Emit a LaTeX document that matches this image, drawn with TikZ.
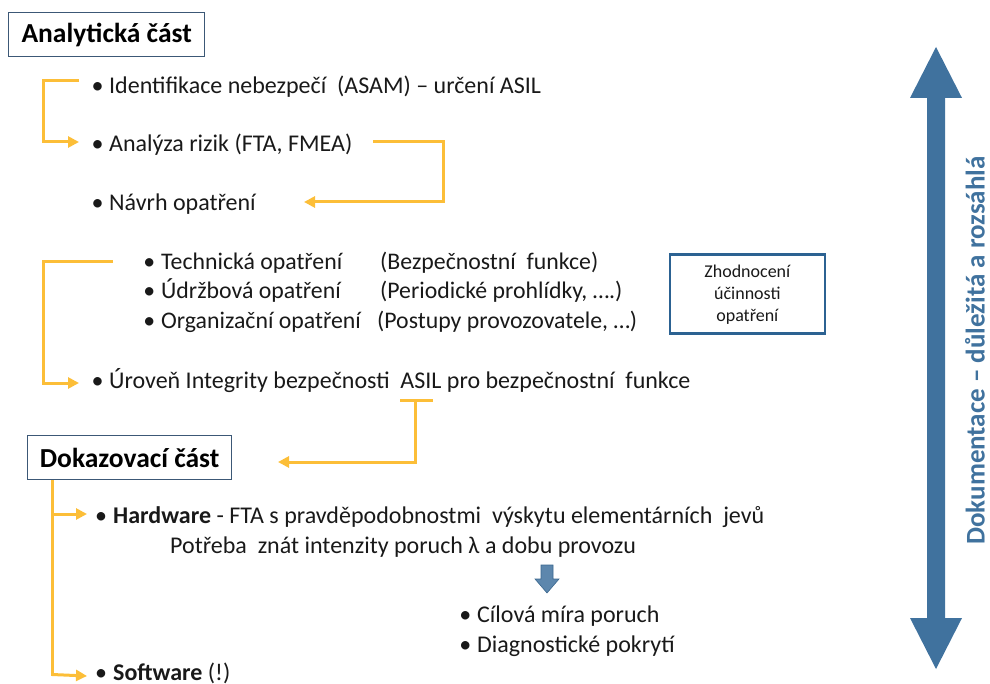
\documentclass[tikz,border=0pt]{standalone}
\usepackage{fontspec}
\setmainfont{Carlito}
\usetikzlibrary{arrows.meta}
\definecolor{flow}{RGB}{252,190,56}
\definecolor{docblue}{RGB}{64,114,158}
\definecolor{framegray}{RGB}{60,88,118}
\definecolor{evalblue}{RGB}{44,98,146}
\definecolor{ink}{RGB}{25,25,25}
\tikzset{
  title/.style={draw=framegray, line width=1.3pt, font=\fontsize{27.5}{32}\selectfont\bfseries,
    text=black, inner xsep=10pt, inner ysep=0pt, minimum height=44pt, anchor=north west},
  item/.style={anchor=base west, inner sep=0pt, text=ink, font=\fontsize{24}{28}\selectfont},
  subitem/.style={anchor=base west, inner sep=0pt, text=ink, font=\fontsize{23.8}{28}\selectfont},
  flowline/.style={draw=flow, line width=3pt},
  flowarrow/.style={flowline, -{Triangle[length=11pt,width=11pt]}},
}
\newcommand{\bul}[1]{\llap{•\hspace{#1}}}
\begin{document}
\begin{tikzpicture}[x=1pt,y=-1pt]
\path[use as bounding box] (0,0) rectangle (990,684);

% --- analytical part -------------------------------------------------
\node[title, minimum width=196pt] (ana) at (8,12) {Analytická část};

\node[item] (id)  at (109,94)  {\bul{5.5pt}Identifikace nebezpečí\ \ (ASAM) – určení ASIL};
\node[item] (riz) at (109,152) {\bul{5.5pt}Analýza rizik (FTA, FMEA)};
\node[item] (nav) at (109,211) {\bul{5.5pt}Návrh opatření};

\coordinate (c1a) at (79,81);
\coordinate (c1b) at (43,81);
\coordinate (c1c) at (43,142);
\coordinate (c1d) at (79,142);
\draw[flowarrow] (c1a) -- (c1b) -- (c1c) -- (c1d);

\coordinate (c2a) at (373,142);
\coordinate (c2b) at (443,142);
\coordinate (c2c) at (443,202);
\coordinate (c2d) at (304,202);
\draw[flowarrow] (c2a) -- (c2b) -- (c2c) -- (c2d);

% measures
\node[subitem] (tech)  at (161,270) {\bul{6pt}Technická opatření};
\node[subitem] (techp) at (380,270) {(Bezpečnostní\ \ funkce)};
\node[subitem] (udr)   at (161,299) {\bul{6pt}Údržbová opatření};
\node[subitem] (udrp)  at (380,299) {(Periodické prohlídky, ….)};
\node[subitem] (org)   at (161,329) {\bul{6pt}Organizační opatření};
\node[subitem] (orgp)  at (377,329) {(Postupy provozovatele, …)};

\node[draw=evalblue, line width=2.7pt, minimum width=155pt, minimum height=79pt,
      align=center, text=ink, font=\fontsize{18}{22}\selectfont, anchor=north west]
  (eval) at (668.5,253.5) {Zhodnocení\\účinnosti\\opatření};

\node[item] (asil) at (109,388) {\bul{5.5pt}Úroveň Integrity bezpečnosti\ \ ASIL pro bezpečnostní\ \ funkce};

\coordinate (c3a) at (113,262);
\coordinate (c3b) at (43,262);
\coordinate (c3c) at (43,383);
\coordinate (c3d) at (79,383);
\draw[flowarrow] (c3a) -- (c3b) -- (c3c) -- (c3d);

% --- proof part ------------------------------------------------------
\node[title, minimum width=204pt] (dok) at (27,435) {Dokazovací část};

\coordinate (c4l) at (400,400);
\coordinate (c4r) at (433,400);
\coordinate (c4a) at (415,400);
\coordinate (c4b) at (415,462);
\coordinate (c4c) at (278,462);
\draw[flowline] (c4l) -- (c4r);
\draw[flowarrow] (c4a) -- (c4b) -- (c4c);

\node[item] (hw) at (113,523) {\bul{6pt}\textbf{Hardware} - FTA s pravděpodobnostmi\ \ výskytu elementárních\ \ jevů};
\node[item] (pot) at (170,553) {Potřeba\ \ znát intenzity poruch λ a dobu provozu};

\node[item] (cil)  at (477,622) {\bul{6pt}Cílová míra poruch};
\node[item] (diag) at (477,652) {\bul{6pt}Diagnostické pokrytí};

\node[item] (sw) at (113,680) {\bul{6pt}\textbf{Software} (!)};

\coordinate (c5b) at (52,514);
\coordinate (c5c) at (52,676);
\draw[flowline] (dok.south west -| c5b) -- (c5c);
\draw[flowarrow] (c5b) -- (87,514);
\draw[flowarrow] ([yshift=1.5pt]c5c) -- (87,676);

% small down arrow between the hardware note and its results
\fill[docblue!85!white, draw=docblue!90!black, line width=0.6pt]
  (541,565) -- (553,565) -- (553,579) -- (559,579) -- (547,593) -- (535,579) -- (541,579) -- cycle;

% --- documentation arrow ---------------------------------------------
\fill[docblue] (936,47) -- (962,98) -- (945,98) -- (945,618) -- (962,618) -- (936,669)
  -- (910,618) -- (927,618) -- (927,98) -- (910,98) -- cycle;
\node[rotate=90, anchor=base, text=docblue, text depth=0pt,
      font=\fontsize{27}{32}\selectfont\bfseries, inner sep=0pt]
  (doc) at (984.5,350.5) {Dokumentace – důležitá a rozsáhlá};
\end{tikzpicture}
\end{document}
